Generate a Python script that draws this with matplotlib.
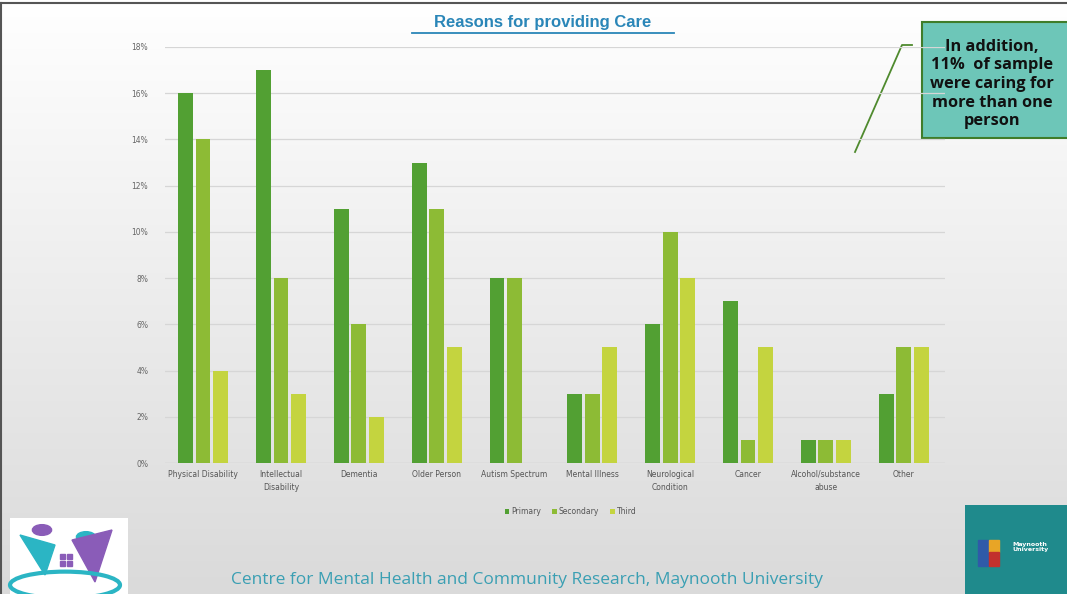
import matplotlib
matplotlib.use('Agg')
import matplotlib.pyplot as plt
import numpy as np
from matplotlib.patches import Rectangle, Circle, Ellipse, Polygon

categories = ['Physical Disability', 'Intellectual\nDisability', 'Dementia', 'Older Person',
              'Autism Spectrum', 'Mental Illness', 'Neurological\nCondition', 'Cancer',
              'Alcohol/substance\nabuse', 'Other']
primary = [16, 17, 11, 13, 8, 3, 6, 7, 1, 3]
secondary = [14, 8, 6, 11, 8, 3, 10, 1, 1, 5]
third = [4, 3, 2, 5, 0, 5, 8, 5, 1, 5]
series_names = ['Primary', 'Secondary', 'Third']
colors = ['#52a033', '#8dbb35', '#c4d43f']
yticks = [0, 2, 4, 6, 8, 10, 12, 14, 16, 18]

fig = plt.figure(figsize=(10.67, 5.94), dpi=100)

# slide background: white to light grey gradient
bg = fig.add_axes([0, 0, 1, 1])
grad = np.linspace(1.0, 0.855, 256).reshape(-1, 1)
bg.imshow(np.dstack([grad, grad, grad]), aspect='auto', extent=[0, 1, 0, 1])
bg.set_xlim(0, 1)
bg.set_ylim(0, 1)
bg.axis('off')
# slide frame
bg.plot([0.001, 0.001], [0, 0.995], color='#555555', lw=1.5)
bg.plot([0, 1], [0.995, 0.995], color='#555555', lw=1.5)

ax = fig.add_axes([0.1546, 0.2205, 0.731, 0.7004])
ax.patch.set_alpha(0)
x = np.arange(len(categories))
w = 0.19
for i, (vals, name) in enumerate(zip([primary, secondary, third], series_names)):
    ax.bar(x + (i - 1) * 0.225, vals, w, color=colors[i], label=name, zorder=3)

ax.set_xlim(-0.49, 9.53)
ax.set_ylim(0, 18)
ax.set_yticks(yticks)
ax.set_yticklabels([f'{t}%' for t in yticks])
ax.grid(axis='y', color='#d6d6d6', lw=0.9, zorder=0)
ax.set_xticks(x)
ax.set_xticklabels(categories, fontsize=5.5, color='#555555', linespacing=1.6)
ax.tick_params(axis='y', labelsize=5.5, colors='#666666', length=0, pad=12)
ax.tick_params(axis='x', length=0, pad=5)
for s in ax.spines.values():
    s.set_visible(False)
ax.axhline(0, color='#cccccc', lw=0.9, zorder=2)

ax.legend(loc='upper center', bbox_to_anchor=(0.52, -0.09), ncol=3, frameon=False,
          fontsize=5.5, handlelength=0.6, handleheight=0.6, handletextpad=0.3,
          columnspacing=1.4, labelcolor='#555555')

# title
fig.text(0.509, 0.962, 'Reasons for providing Care', ha='center', va='center',
         fontsize=12, fontweight='bold', color='#2a86b8', family='Liberation Sans')
bg.plot([0.386, 0.632], [0.945, 0.945], color='#2a86b8', lw=1.3)

# callout
bg.add_patch(Rectangle((922 / 1067, 1 - 138 / 594), 150 / 1067, 116 / 594,
                       facecolor='#6dc6b8', edgecolor='#3f7d2a', lw=1.5))
fig.text(992 / 1067, 1 - 84 / 594,
         'In addition,\n11%  of sample\nwere caring for\nmore than one\nperson',
         ha='center', va='center', fontsize=11.8, fontweight='bold', color='#111111',
         family='Open Sans', linespacing=1.22)
bg.plot([855 / 1067, 902 / 1067, 912 / 1067], [1 - 152 / 594, 1 - 45 / 594, 1 - 45 / 594],
        color='#4f8a2e', lw=1.3)

# footer
fig.text(527 / 1067, 1 - 580 / 594,
         'Centre for Mental Health and Community Research, Maynooth University',
         ha='center', va='center', fontsize=12.5, color='#3a9fb3', family='Open Sans')

# left logo
bg.add_patch(Rectangle((10 / 1067, 0), 118 / 1067, 76 / 594, facecolor='white', edgecolor='none'))
bg.add_patch(Circle((42 / 1067, 1 - 530 / 594), 0.009, color='#8a5cb8', transform=bg.transAxes))
bg.add_patch(Circle((86 / 1067, 1 - 537 / 594), 0.009, color='#2bb5c4', transform=bg.transAxes))
bg.add_patch(Polygon([(20 / 1067, 1 - 535 / 594), (45 / 1067, 1 - 575 / 594),
                      (55 / 1067, 1 - 545 / 594)], color='#2bb5c4'))
bg.add_patch(Polygon([(72 / 1067, 1 - 540 / 594), (95 / 1067, 1 - 582 / 594),
                      (112 / 1067, 1 - 530 / 594)], color='#8a5cb8'))
bg.add_patch(Ellipse((65 / 1067, 1 - 585 / 594), 110 / 1067, 0.045, facecolor='none',
                     edgecolor='#2bb5c4', lw=3))
for dx in (0, 7):
    for dy in (0, 7):
        bg.add_patch(Rectangle(((60 + dx) / 1067, 1 - (566 - dy) / 594), 5 / 1067, 5 / 594,
                               color='#8a5cb8'))

# right logo
bg.add_patch(Rectangle((965 / 1067, 0), 102 / 1067, 89 / 594, facecolor='#1f8a8c', edgecolor='none'))
bg.add_patch(Rectangle((978 / 1067, 1 - 566 / 594), 10 / 1067, 26 / 594, color='#2f5aa8'))
bg.add_patch(Rectangle((989 / 1067, 1 - 552 / 594), 10 / 1067, 12 / 594, color='#e8a526'))
bg.add_patch(Rectangle((989 / 1067, 1 - 566 / 594), 10 / 1067, 14 / 594, color='#c2312d'))
fig.text(1012 / 1067, 1 - 547 / 594, 'Maynooth\nUniversity', fontsize=4.5, color='white',
         fontweight='bold', va='center', linespacing=0.9)

fig.savefig('out.png', dpi=100)
